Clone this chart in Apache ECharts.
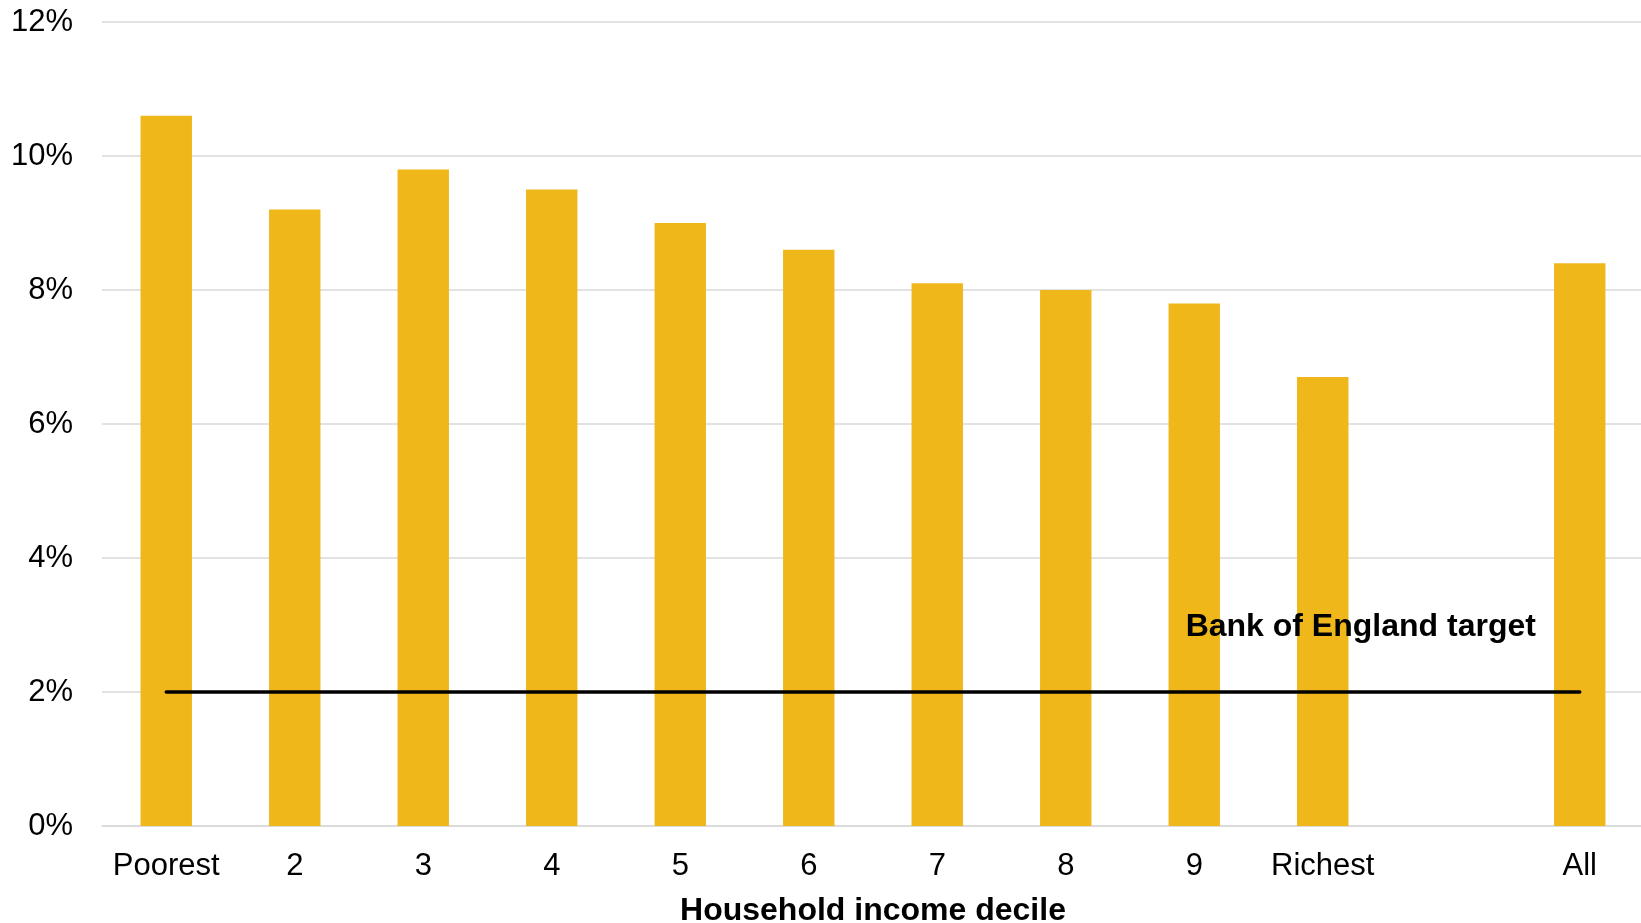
<!DOCTYPE html>
<html>
<head>
<meta charset="utf-8">
<title>Inflation by household income decile</title>
<script src="https://cdn.jsdelivr.net/npm/echarts@6/dist/echarts.min.js"></script>
<style>
  html, body { margin: 0; padding: 0; background: #ffffff; overflow: hidden; }
  #chart { width: 1641px; height: 923px; }
</style>
</head>
<body>
<div id="chart"></div>
<script>
// Household income deciles, with a blank slot separating the "All" bar
const categories = ['Poorest', '2', '3', '4', '5', '6', '7', '8', '9', 'Richest', '', 'All'];
// Inflation rate (%) faced by each decile
const inflationRates = [10.6, 9.2, 9.8, 9.5, 9.0, 8.6, 8.1, 8.0, 7.8, 6.7, '-', 8.4];
// Bank of England inflation target (%)
const targetRate = 2;
const targetLine = categories.map(() => targetRate);
const targetLabel = 'Bank of England target';
const axisTitle = 'Household income decile';

const FONT = '"Liberation Sans", Arial, sans-serif';

const chart = echarts.init(document.getElementById('chart'), null, { renderer: 'canvas' });

chart.setOption({
  animation: false,
  backgroundColor: '#ffffff',
  grid: { left: 102, right: -3, top: 22, bottom: 97, containLabel: false, outerBoundsMode: 'none' },
  xAxis: {
    type: 'category',
    data: categories,
    axisTick: { show: false },
    axisLine: { show: true, lineStyle: { color: '#d9d9d9', width: 1.5 } },
    axisLabel: { color: '#000000', fontFamily: FONT, fontSize: 31, margin: 25, interval: 0 },
    name: axisTitle,
    nameLocation: 'middle',
    nameGap: 69,
    nameTextStyle: { color: '#000000', fontFamily: FONT, fontSize: 32, fontWeight: 'bold' }
  },
  yAxis: {
    type: 'value',
    min: 0,
    max: 12,
    interval: 2,
    axisLine: { show: false },
    axisTick: { show: false },
    axisLabel: { color: '#000000', fontFamily: FONT, fontSize: 31, margin: 29, formatter: v => v + '%' },
    splitLine: { show: true, lineStyle: { color: '#d9d9d9', width: 1.5 } }
  },
  series: [
    {
      type: 'bar',
      data: inflationRates,
      barWidth: '40%',
      itemStyle: { color: '#f0b71a' },
      z: 2
    },
    {
      type: 'line',
      data: targetLine,
      symbol: 'none',
      lineStyle: { color: '#000000', width: 3.5, cap: 'round' },
      z: 3,
      markPoint: {
        symbol: 'rect',
        symbolSize: 1,
        itemStyle: { color: 'rgba(0,0,0,0)' },
        data: [{ coord: ['Richest', targetRate] }],
        label: {
          show: true,
          position: 'inside',
          formatter: targetLabel,
          offset: [38, -65],
          color: '#000000',
          fontFamily: FONT,
          fontSize: 32,
          fontWeight: 'bold'
        }
      }
    }
  ]
});
</script>
</body>
</html>
